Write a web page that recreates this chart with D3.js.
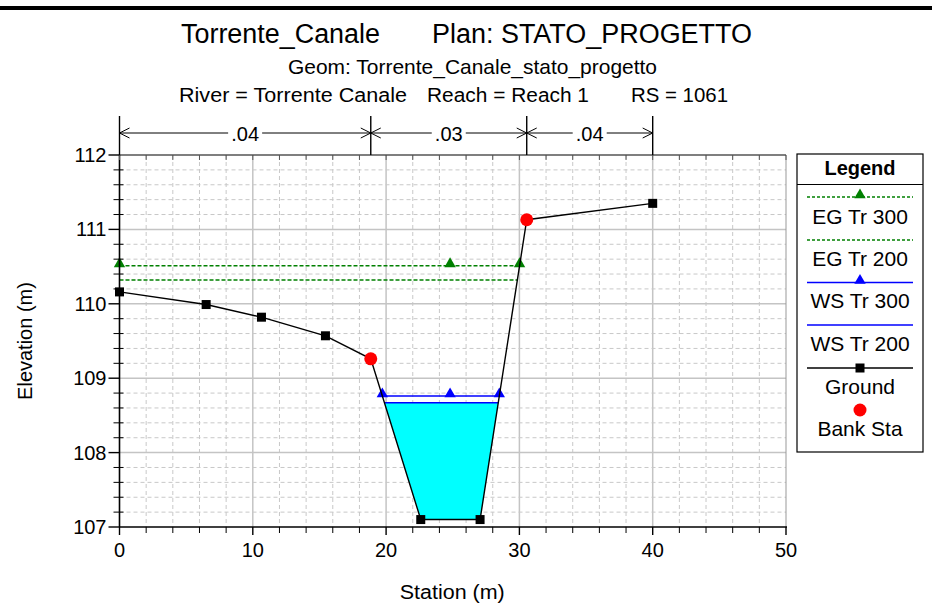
<!DOCTYPE html>
<html><head><meta charset="utf-8">
<script src="https://cdn.jsdelivr.net/npm/d3@7"></script>
<style>
body{margin:0;background:#fff;}
text{font-family:"Liberation Sans",Arial,Helvetica,sans-serif;fill:#000;}
</style></head>
<body>
<svg id="chart" width="932" height="605"></svg>
<script>
// ---------- data ----------
const groundStation = [0, 6.5, 10.65, 15.45, 18.85, 22.6, 27.05, 30.55, 40];
const groundElev    = [110.16, 109.99, 109.82, 109.57, 109.26, 107.1, 107.1, 111.13, 111.35];
const bankStations  = [18.85, 30.55];
const nBounds = [0, 18.85, 30.55, 40];
const nValues = [".04", ".03", ".04"];
const profileNames  = ["EG Tr 300", "EG Tr 200", "WS Tr 300", "WS Tr 200"];
const profileLevels = [110.51, 110.32, 108.76, 108.67];
const profileKinds  = ["EG", "EG", "WS", "WS"];
const profileMarked = [true, false, true, false];
const channelCenter = 24.8;
const xTicks = [0, 10, 20, 30, 40, 50];
const yTicks = [107, 108, 109, 110, 111, 112];
const legendLabels = ["EG Tr 300", "EG Tr 200", "WS Tr 300", "WS Tr 200", "Ground", "Bank Sta"];

// ---------- layout ----------
const svg = d3.select("#chart");
const L = 119.5, R = 786, T = 155, B = 527;
const x = d3.scaleLinear().domain([0, 50]).range([L, R]);
const y = d3.scaleLinear().domain([107, 112]).range([B, T]);
const ground = groundStation.map((s, i) => ({s, e: groundElev[i]}));

// top bar
svg.append("rect").attr("x", 0).attr("y", 6).attr("width", 932).attr("height", 4).attr("fill", "#000");

// titles
function txt(str, xx, yy, size, len, anchor, weight) {
  const t = svg.append("text").attr("x", xx).attr("y", yy).attr("font-size", size).text(str);
  if (len) t.attr("textLength", len).attr("lengthAdjust", "spacingAndGlyphs");
  if (anchor) t.attr("text-anchor", anchor);
  if (weight) t.attr("font-weight", weight);
  return t;
}
txt("Torrente_Canale", 181, 43, 27, 199);
txt("Plan: STATO_PROGETTO", 432, 43, 27, 320);
txt("Geom: Torrente_Canale_stato_progetto", 288, 74, 21, 369);
txt("River = Torrente Canale", 179, 102, 20, 228);
txt("Reach = Reach 1", 427, 102, 20, 162);
txt("RS = 1061", 631, 102, 20, 97);

// grid
const g = svg.append("g");
d3.range(0, 50.001, 2).forEach(v => {
  const major = Math.abs(v % 10) < 1e-6;
  if (v === 0 || v === 50) return;
  g.append("line").attr("x1", x(v)).attr("x2", x(v)).attr("y1", T).attr("y2", B)
    .attr("stroke", major ? "#c4c4c4" : "#c8c8c8").attr("stroke-width", major ? 1.5 : 1)
    .attr("stroke-dasharray", major ? null : "4,3");
});
d3.range(107, 112.001, 0.2).forEach(v => {
  const major = Math.abs(v - Math.round(v)) < 1e-6;
  if (Math.abs(v - 107) < 1e-6 || Math.abs(v - 112) < 1e-6) return;
  g.append("line").attr("x1", L).attr("x2", R).attr("y1", y(v)).attr("y2", y(v))
    .attr("stroke", major ? "#c4c4c4" : "#c8c8c8").attr("stroke-width", major ? 1.5 : 1)
    .attr("stroke-dasharray", major ? null : "4,3");
});

// extent of a level over the ground, growing out from channel center
function interp(a, b, lev) { return a.s + (lev - a.e) / (b.e - a.e) * (b.s - a.s); }
function extent(lev) {
  let ci = ground.findIndex(p => p.s > channelCenter);
  let left = ground[0].s, right = ground[ground.length - 1].s;
  for (let i = ci - 1; i >= 0; i--) {
    if (ground[i].e > lev) { left = interp(ground[i], ground[i + 1], lev); break; }
  }
  for (let i = ci; i < ground.length; i++) {
    if (ground[i].e > lev) { right = interp(ground[i - 1], ground[i], lev); break; }
  }
  return [left, right];
}

// water fill (lowest WS)
const wsLev = profileLevels[3];
const [wl, wr] = extent(wsLev);
const poly = [{s: wl, e: wsLev}].concat(ground.filter(p => p.s > wl && p.s < wr)).concat([{s: wr, e: wsLev}]);
svg.append("path").attr("d", d3.line().x(d => x(d.s)).y(d => y(d.e))(poly) + "Z").attr("fill", "#00ffff");

// profile lines
const colorOf = k => k === "EG" ? "#008000" : "#0000ff";
const tri = d3.symbol().type(d3.symbolTriangle).size(56);
profileLevels.forEach((lev, i) => {
  const [a, b] = extent(lev);
  const c = colorOf(profileKinds[i]);
  svg.append("line").attr("x1", x(a)).attr("x2", x(b)).attr("y1", y(lev)).attr("y2", y(lev))
    .attr("stroke", c).attr("stroke-width", profileKinds[i] === "EG" ? 1.5 : 1.6)
    .attr("stroke-dasharray", profileKinds[i] === "EG" ? "4,2" : null);
  if (profileMarked[i]) {
    [a, channelCenter, b].forEach(s => {
      svg.append("path").attr("d", tri).attr("fill", c)
        .attr("transform", `translate(${x(s)},${y(lev) - 2})`);
    });
  }
});

// ground
svg.append("path").attr("d", d3.line().x(d => x(d.s)).y(d => y(d.e))(ground))
  .attr("fill", "none").attr("stroke", "#000").attr("stroke-width", 1.4);
ground.filter(p => !bankStations.includes(p.s)).forEach(p => {
  svg.append("rect").attr("x", x(p.s) - 4.5).attr("y", y(p.e) - 4.5).attr("width", 9).attr("height", 9).attr("fill", "#000");
});
ground.filter(p => bankStations.includes(p.s)).forEach(p => {
  svg.append("circle").attr("cx", x(p.s)).attr("cy", y(p.e)).attr("r", 6.5).attr("fill", "#ff0000");
});

// frame & axes
svg.append("line").attr("x1", R).attr("x2", R).attr("y1", T).attr("y2", B).attr("stroke", "#999").attr("stroke-width", 1);
svg.append("line").attr("x1", L).attr("x2", R).attr("y1", T).attr("y2", T).attr("stroke", "#000").attr("stroke-width", 1.2);
svg.append("line").attr("x1", L).attr("x2", R + 1).attr("y1", B).attr("y2", B).attr("stroke", "#000").attr("stroke-width", 1.6);
svg.append("line").attr("x1", L).attr("x2", L).attr("y1", T).attr("y2", B).attr("stroke", "#000").attr("stroke-width", 1.6);

// x ticks
d3.range(0, 50.001, 2).forEach(v => {
  const major = Math.abs(v % 10) < 1e-6;
  svg.append("line").attr("x1", x(v)).attr("x2", x(v)).attr("y1", B).attr("y2", B + (major ? 8 : 6))
    .attr("stroke", "#000").attr("stroke-width", major ? 1.4 : 1);
  svg.append("line").attr("x1", x(v)).attr("x2", x(v)).attr("y1", T).attr("y2", T + 5)
    .attr("stroke", "#555").attr("stroke-width", 1);
});
xTicks.forEach(v => txt(String(v), x(v), 557, 20, null, "middle"));
// y ticks
d3.range(107, 112.001, 0.2).forEach(v => {
  const major = Math.abs(v - Math.round(v)) < 1e-6;
  svg.append("line").attr("x1", major ? L - 11 : L - 6).attr("x2", major ? L : L + 4).attr("y1", y(v)).attr("y2", y(v))
    .attr("stroke", "#000").attr("stroke-width", major ? 1.4 : 1);
});
yTicks.forEach(v => txt(String(v), L - 13, y(v) + 7, 20, null, "end"));

// axis titles
txt("Station (m)", x(25) - 0.5, 599, 20, 105, "middle");
svg.append("text").attr("transform", `translate(32,${(T + B) / 2}) rotate(-90)`)
  .attr("text-anchor", "middle").attr("font-size", 20).text("Elevation (m)");

// Manning's n
const ay = 133;
nBounds.forEach(s => {
  svg.append("line").attr("x1", x(s)).attr("x2", x(s)).attr("y1", 116).attr("y2", T).attr("stroke", "#000").attr("stroke-width", 1.4);
});
nValues.forEach((lab, i) => {
  const a = x(nBounds[i]), b = x(nBounds[i + 1]), m = (a + b) / 2;
  txt(lab, m, 141, 20, null, "middle");
  const half = 17;
  svg.append("line").attr("x1", a).attr("x2", m - half).attr("y1", ay).attr("y2", ay).attr("stroke", "#000");
  svg.append("line").attr("x1", m + half).attr("x2", b).attr("y1", ay).attr("y2", ay).attr("stroke", "#000");
  svg.append("path").attr("d", `M${a + 10},${ay - 5}L${a},${ay}L${a + 10},${ay + 5}`).attr("fill", "none").attr("stroke", "#000");
  svg.append("path").attr("d", `M${b - 10},${ay - 5}L${b},${ay}L${b - 10},${ay + 5}`).attr("fill", "none").attr("stroke", "#000");
});

// legend
const lg = svg.append("g");
const lx0 = 797, lx1 = 923, lcx = 860;
lg.append("rect").attr("x", lx0).attr("y", 154).attr("width", lx1 - lx0).attr("height", 298)
  .attr("fill", "#fff").attr("stroke", "#000").attr("stroke-width", 1.2);
lg.append("line").attr("x1", lx0).attr("x2", lx1).attr("y1", 184.5).attr("y2", 184.5).attr("stroke", "#000");
txt("Legend", lcx, 175, 20, null, "middle", "bold");
const lineYs = [197, 240, 282.5, 325, 368];
const textYs = [223.5, 266, 308, 351, 393.5, 436];
legendLabels.forEach((lab, i) => {
  txt(lab, lcx, textYs[i], 21, null, "middle");
  if (i < 4) {
    const c = colorOf(profileKinds[i]);
    lg.append("line").attr("x1", 807).attr("x2", 913).attr("y1", lineYs[i]).attr("y2", lineYs[i])
      .attr("stroke", c).attr("stroke-width", 1.3).attr("stroke-dasharray", profileKinds[i] === "EG" ? "3,2" : null);
    if (profileMarked[i]) lg.append("path").attr("d", tri).attr("fill", c).attr("transform", `translate(${lcx},${lineYs[i] - 2})`);
  } else if (i === 4) {
    lg.append("line").attr("x1", 807).attr("x2", 913).attr("y1", lineYs[i]).attr("y2", lineYs[i]).attr("stroke", "#000").attr("stroke-width", 1.3);
    lg.append("rect").attr("x", lcx - 4.5).attr("y", lineYs[i] - 4.5).attr("width", 9).attr("height", 9).attr("fill", "#000");
  } else {
    lg.append("circle").attr("cx", lcx).attr("cy", 410).attr("r", 6.5).attr("fill", "#ff0000");
  }
});
</script>
</body></html>
